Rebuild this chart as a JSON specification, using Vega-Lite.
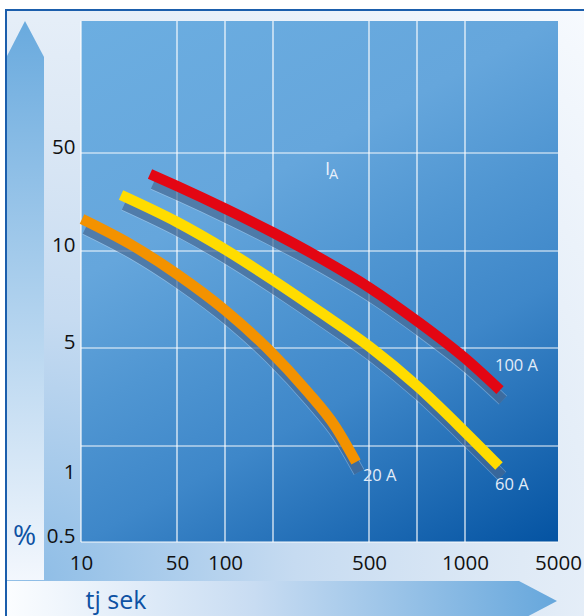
{
  "$schema": "https://vega.github.io/schema/vega-lite/v6.json",
  "width": 477,
  "height": 521,
  "autosize": {"type": "none"},
  "padding": {"left": 81, "top": 21, "right": 26, "bottom": 74},
  "background": "#ffffff",
  "config": {
    "view": {"stroke": null},
    "font": "Open Sans",
    "axis": {"labelFont": "Open Sans", "titleFont": "Open Sans"},
    "text": {"font": "Open Sans"}
  },
  "datasets": {
    "curves": [
      {"series": "100 A", "t": 38.75, "p": 41.43},
      {"series": "100 A", "t": 50, "p": 36.53},
      {"series": "100 A", "t": 102.08, "p": 27.14},
      {"series": "100 A", "t": 200, "p": 17.55},
      {"series": "100 A", "t": 346.9, "p": 9.64},
      {"series": "100 A", "t": 504.2, "p": 8.09},
      {"series": "100 A", "t": 700, "p": 6.39},
      {"series": "100 A", "t": 1043, "p": 4.66},
      {"series": "100 A", "t": 2505, "p": 3.71},
      {"series": "60 A", "t": 26.67, "p": 32.86},
      {"series": "60 A", "t": 50, "p": 21.84},
      {"series": "60 A", "t": 102.08, "p": 10.41},
      {"series": "60 A", "t": 200, "p": 8.5},
      {"series": "60 A", "t": 346.9, "p": 6.86},
      {"series": "60 A", "t": 504.2, "p": 5.05},
      {"series": "60 A", "t": 700, "p": 3.84},
      {"series": "60 A", "t": 1086, "p": 2.37},
      {"series": "60 A", "t": 2462, "p": 1.375},
      {"series": "20 A", "t": 10.42, "p": 23.06},
      {"series": "20 A", "t": 30.42, "p": 12.86},
      {"series": "20 A", "t": 50, "p": 8.81},
      {"series": "20 A", "t": 102.08, "p": 6.91},
      {"series": "20 A", "t": 187.5, "p": 5.0},
      {"series": "20 A", "t": 306.25, "p": 3.68},
      {"series": "20 A", "t": 393.75, "p": 2.61},
      {"series": "20 A", "t": 459.4, "p": 1.5}
    ],
    "labels": [
      {"text": "100 A", "t": 2290, "p": 4.3},
      {"text": "60 A", "t": 2290, "p": 0.906},
      {"text": "20 A", "t": 481, "p": 0.977}
    ],
    "ia": [
      {"text": "I", "t": 362.5, "p": 41.0},
      {"text": "A", "t": 375, "p": 39.4}
    ],
    "xgrid": [{"t": 10}, {"t": 50}, {"t": 100}, {"t": 200}, {"t": 500}, {"t": 700}, {"t": 1000}],
    "ygrid": [{"p": 0.5}, {"p": 2}, {"p": 5}, {"p": 10}, {"p": 50}]
  },
  "layer": [
    {
      "data": {"values": [{}]},
      "mark": {
        "type": "point", "shape": "M-75,-532H509V80H-75Z", "size": 4, "filled": true, "opacity": 1, "strokeWidth": 0,
        "fill": {"gradient": "radial", "x1": 0.067, "y1": 0.931, "r1": 0, "x2": 0.067, "y2": 0.931, "r2": 1.3,
          "stops": [
            {"offset": 0, "color": "#8ebde6"},
            {"offset": 0.33, "color": "#c6dbf1"},
            {"offset": 0.57, "color": "#dce8f5"},
            {"offset": 0.75, "color": "#e8f0f9"},
            {"offset": 1, "color": "#f7fafe"}
          ]}
      },
      "encoding": {"x": {"datum": 10, "type": "quantitative"}, "y": {"datum": 0.5, "type": "quantitative"}}
    },
    {
      "data": {"values": [{}]},
      "mark": {"type": "point", "shape": "M-75,80V-532H509", "size": 4, "filled": false, "opacity": 1, "stroke": "#1b5eac", "strokeWidth": 2},
      "encoding": {"x": {"datum": 10, "type": "quantitative"}, "y": {"datum": 0.5, "type": "quantitative"}}
    },
    {
      "data": {"values": [{}]},
      "mark": {
        "type": "point", "shape": "M-56,-521L-37,-485V38H-74V-486Z", "size": 4, "filled": true, "opacity": 1, "strokeWidth": 0,
        "fill": {"gradient": "linear", "x1": 0, "y1": 0, "x2": 0, "y2": 1,
          "stops": [{"offset": 0, "color": "#69aade"}, {"offset": 1, "color": "#f3f7fd"}]}
      },
      "encoding": {"x": {"datum": 10, "type": "quantitative"}, "y": {"datum": 0.5, "type": "quantitative"}}
    },
    {
      "data": {"values": [{}]},
      "mark": {
        "type": "point", "shape": "M-74,39H438L476,59L438,79H-74Z", "size": 4, "filled": true, "opacity": 1, "strokeWidth": 0,
        "fill": {"gradient": "linear", "x1": 0, "y1": 0, "x2": 1, "y2": 0,
          "stops": [{"offset": 0, "color": "#fbfdff"}, {"offset": 0.45, "color": "#c8dcf2"}, {"offset": 1, "color": "#66a7dc"}]}
      },
      "encoding": {"x": {"datum": 10, "type": "quantitative"}, "y": {"datum": 0.5, "type": "quantitative"}}
    },
    {
      "data": {"values": [{}]},
      "mark": {
        "type": "rect",
        "color": {"gradient": "linear", "x1": 0, "y1": 0, "x2": 0.6, "y2": 1.2,
          "stops": [
            {"offset": 0, "color": "#6caee1"},
            {"offset": 0.33, "color": "#65a6dc"},
            {"offset": 0.5, "color": "#5096d2"},
            {"offset": 0.667, "color": "#3e87c9"},
            {"offset": 1, "color": "#0453a2"}
          ]}
      },
      "encoding": {
        "x": {"datum": 10, "type": "quantitative"},
        "x2": {"datum": 5000},
        "y": {"datum": 0.5, "type": "quantitative"},
        "y2": {"datum": 100}
      }
    },
    {
      "data": {"name": "xgrid"},
      "mark": {"type": "rule", "color": "#ffffff", "strokeWidth": 1.2, "opacity": 0.95},
      "encoding": {"x": {"field": "t", "type": "quantitative"}}
    },
    {
      "data": {"name": "ygrid"},
      "mark": {"type": "rule", "color": "#ffffff", "strokeWidth": 1.2, "opacity": 0.95},
      "encoding": {"y": {"field": "p", "type": "quantitative"}}
    },
    {
      "data": {"name": "curves"},
      "mark": {"type": "line", "interpolate": "monotone", "strokeWidth": 12, "strokeCap": "butt", "color": "#d6e6f6", "opacity": 0.35, "xOffset": 3, "yOffset": 10},
      "encoding": {
        "x": {"field": "t", "type": "quantitative"},
        "y": {"field": "p", "type": "quantitative"},
        "detail": {"field": "series"}
      }
    },
    {
      "data": {"name": "curves"},
      "mark": {"type": "line", "interpolate": "monotone", "strokeWidth": 10.5, "strokeCap": "butt", "color": "#143c6e", "opacity": 0.5, "xOffset": 3, "yOffset": 10},
      "encoding": {
        "x": {"field": "t", "type": "quantitative"},
        "y": {"field": "p", "type": "quantitative"},
        "detail": {"field": "series"}
      }
    },
    {
      "data": {"name": "curves"},
      "mark": {"type": "line", "interpolate": "monotone", "strokeWidth": 10.5, "strokeCap": "butt", "opacity": 1},
      "encoding": {
        "x": {
          "field": "t", "type": "quantitative",
          "scale": {"type": "linear", "domain": [10, 50, 100, 200, 500, 700, 1000, 5000], "range": [0, 96, 144, 192, 288, 336, 384, 477], "zero": false, "nice": false},
          "axis": {
            "title": "tj sek", "values": [10, 50, 100, 500, 1000, 5000], "format": "d",
            "grid": false, "domain": false, "ticks": false,
            "labelPadding": 27, "labelBaseline": "alphabetic", "labelFlush": false, "labelOverlap": false, "labelBound": false,
            "labelFontSize": 20.5, "labelColor": "#111111",
            "titleX": 4, "titleY": 66, "titleAlign": "left", "titleAnchor": "start", "titleBaseline": "alphabetic",
            "titleFontSize": 25, "titleFontWeight": "normal", "titleColor": "#0d51a3", "zindex": 1
          }
        },
        "y": {
          "field": "p", "type": "quantitative",
          "scale": {"type": "linear", "domain": [0.5, 1, 2, 5, 10, 50, 100], "range": [521, 457, 425, 327, 230, 132, 0], "zero": false, "nice": false},
          "axis": {
            "title": "%", "values": [0.5, 1, 5, 10, 50], "format": ".1~f",
            "grid": false, "domain": false, "ticks": false,
            "labelPadding": 6, "labelBaseline": "alphabetic", "labelAlign": "right", "labelFlush": false, "labelOverlap": false, "labelBound": false,
            "labelFontSize": 20.5, "labelColor": "#111111",
            "titleAngle": 0, "titleX": -57, "titleY": 523, "titleAlign": "center", "titleBaseline": "alphabetic",
            "titleFontSize": 28, "titleFontWeight": "normal", "titleColor": "#0d51a3", "zindex": 1
          }
        },
        "color": {
          "field": "series", "type": "nominal",
          "scale": {"domain": ["100 A", "60 A", "20 A"], "range": ["#e30613", "#ffdc00", "#f39200"]},
          "legend": null
        }
      }
    },
    {
      "data": {"name": "labels"},
      "mark": {"type": "text", "align": "left", "baseline": "alphabetic", "fontSize": 16.5, "color": "#e2ecf8"},
      "encoding": {
        "x": {"field": "t", "type": "quantitative"},
        "y": {"field": "p", "type": "quantitative"},
        "text": {"field": "text"}
      }
    },
    {
      "data": {"name": "ia"},
      "mark": {"type": "text", "align": "left", "baseline": "alphabetic", "color": "#e8f0fa"},
      "encoding": {
        "x": {"field": "t", "type": "quantitative"},
        "y": {"field": "p", "type": "quantitative"},
        "text": {"field": "text"},
        "size": {"condition": {"test": "datum.text == 'A'", "value": 14.5}, "value": 18.5}
      }
    }
  ]
}
